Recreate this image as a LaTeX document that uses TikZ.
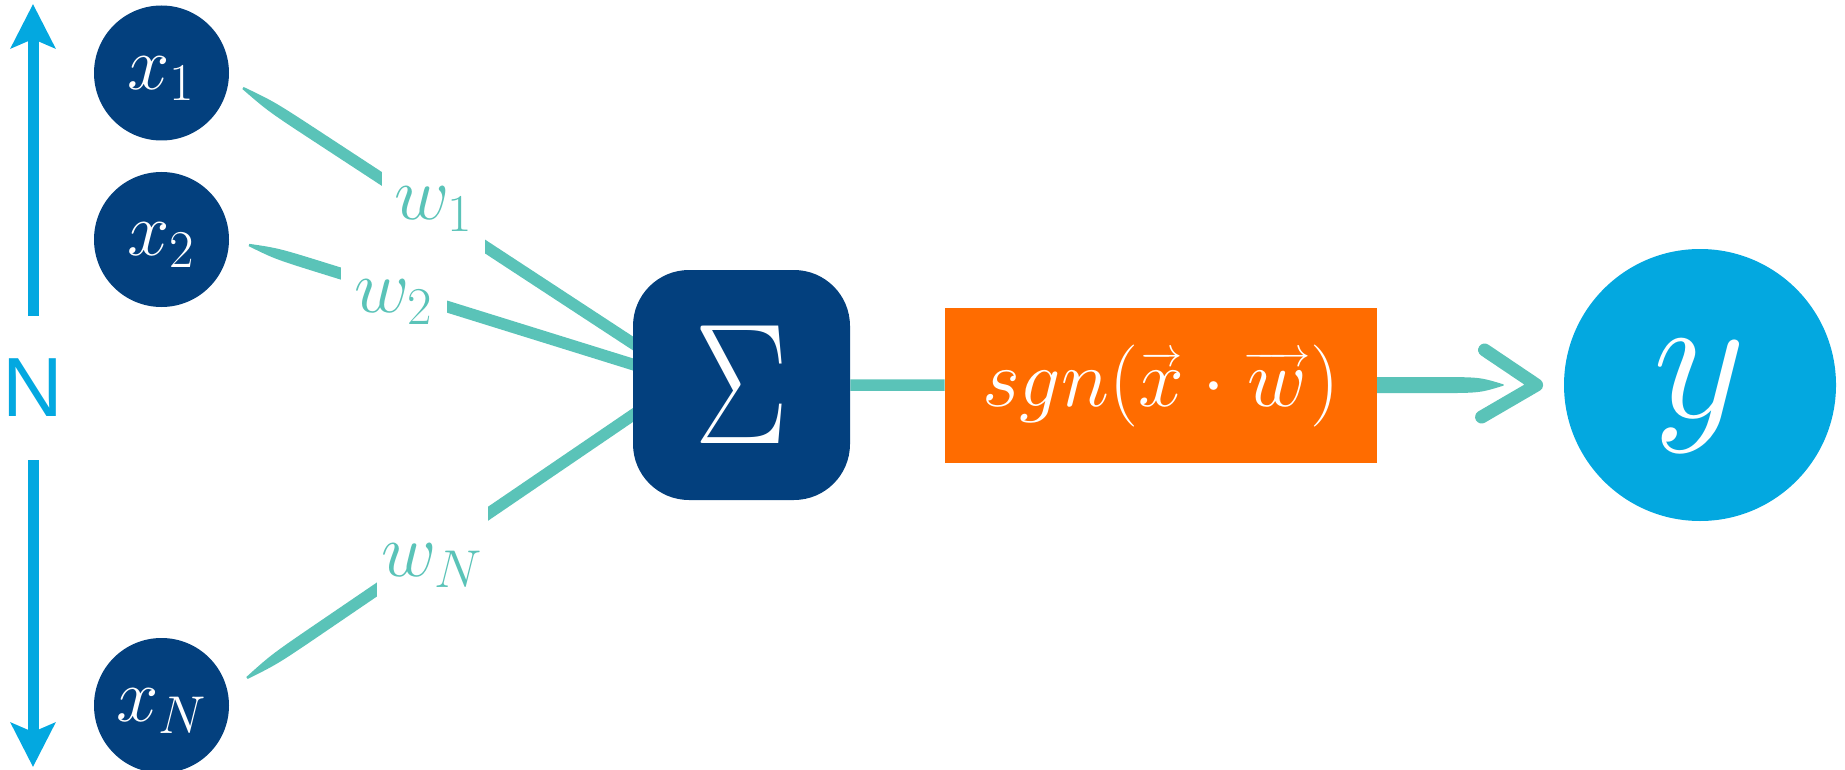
\RequirePackage{fix-cm}
\documentclass[tikz,border=0pt]{standalone}
\usepackage{fontspec}
\newfontfamily\sansN{Liberation Sans}
\usetikzlibrary{arrows.meta,calc,backgrounds}

\definecolor{navy}{HTML}{03407E}
\definecolor{sea}{HTML}{5AC3B8}
\definecolor{sky}{HTML}{03A8E0}
\definecolor{flame}{HTML}{FF6C00}

% vector arrow of a given (unscaled) length over a symbol
\newcommand\arrowover[2]{\mathord{\mathop{\hbox{$#2$}}\limits^{\scalebox{0.5}{\hbox to #1{\rightarrowfill}}}}}

% a brush-like stroke from #1 to #2: half-width #3 at the start, swelling to #4
\newcommand\brushstroke[4]{%
  \fill[sea] ($(#1)!#3!90:(#2)$)
    .. controls ($(#1)!0.07!(#2)!#4!90:(#2)$) .. ($(#1)!0.2!(#2)!#4!90:(#2)$)
    -- ($(#2)!#4!-90:(#1)$)
    -- ($(#2)!#4!90:(#1)$)
    -- ($(#1)!0.2!(#2)!#4!-90:(#2)$)
    .. controls ($(#1)!0.07!(#2)!#4!-90:(#2)$) .. ($(#1)!#3!-90:(#2)$)
    -- cycle;}

\tikzset{
  input/.style={circle, fill=navy, text=white, minimum size=67.5pt, inner sep=0pt, outer sep=0pt,
    font=\fontsize{38}{40}\selectfont, text depth=0pt},
  weight/.style={rectangle, fill=white, text=sea, inner sep=0pt, outer sep=0pt, minimum height=65pt,
    font=\fontsize{38}{40}\selectfont, text depth=0pt},
  sumbox/.style={rectangle, fill=navy, text=white, minimum width=108.5pt, minimum height=115pt,
    rounded corners=28pt, inner sep=0pt, font=\fontsize{86}{90}\selectfont},
  actbox/.style={rectangle, fill=flame, text=white, minimum width=216pt, minimum height=77.5pt,
    inner sep=0pt, font=\fontsize{41}{44}\selectfont},
  output/.style={circle, fill=sky, text=white, minimum size=136pt, inner sep=0pt,
    font=\fontsize{90}{92}\selectfont, text depth=5.8pt},
  countlabel/.style={rectangle, text=sky, inner sep=0pt, outer sep=0pt, minimum height=72pt,
    font=\sansN\fontsize{42}{44}\selectfont},
  countarrow/.style={draw=sky, line width=5.5pt, -{Stealth[length=22pt, width=22pt, inset=4.5pt]}},
  joinline/.style={draw=sea, line width=5.75pt},
  chevron/.style={draw=sea, line width=6.5pt, line cap=round, line join=round},
}

\begin{document}
\begin{tikzpicture}[x=0.5pt, y=-0.5pt]
  \useasboundingbox (0,0) rectangle (1845,770);

  % inputs
  \node[input] (x1) at (161.5,73)    {$x_1$};
  \node[input] (x2) at (161.5,239.5) {$x_2$};
  \node[input] (xN) at (161.5,705.5) {$x_N$};

  % weights (their white boxes break the connectors)
  \node[weight, minimum width=53pt]   (w2) at (394,296.5)   {$w_2$};
  \node[weight, minimum width=51.5pt] (w1) at (433.5,203.5) {$w_1$};
  \node[weight, minimum width=55.5pt] (wN) at (432.5,560)   {$w_N$};

  % sum, activation and output
  \node[sumbox] (sum) at (741.5,385) {\scalebox{0.82}[1]{$\Sigma$}\hspace{7pt}};
  \node[actbox] (act) at (1161,385.5)
    {$sgn(\arrowover{0.9em}{x}\cdot\arrowover{1.65em}{w})$};
  \node[output] (y) at (1700,385) {$y$};

  % number of inputs
  \node[countlabel] (N) at (33,388) {N};
  \coordinate (ntop) at (33,4);
  \coordinate (nbot) at (33,767);
  \draw[countarrow] (N) -- (ntop);
  \draw[countarrow] (N) -- (nbot);

  \begin{scope}[on background layer]
    \coordinate (a1) at ($(x1.east)+(14,15)$);
    \coordinate (a2) at ($(x2.east)+(20,5.5)$);
    \coordinate (a3) at ($(xN.east)+(18,-27.5)$);
    \coordinate (b1) at ($(sum.west)+(15,-32)$);
    \coordinate (b2) at ($(sum.west)+(15,-16)$);
    \coordinate (b3) at ($(sum.west)+(15,20)$);
    \brushstroke{a1}{b1}{0.6pt}{2.9pt}
    \brushstroke{a2}{b2}{0.6pt}{2.9pt}
    \brushstroke{a3}{b3}{0.6pt}{2.9pt}
    \draw[joinline] (sum) -- (act);
    \coordinate (tail) at ($(y.west)+(-60,0)$);
    \brushstroke{tail}{act.center}{0.3pt}{4pt}
  \end{scope}

  % arrowhead in front of the output
  \coordinate (tip)   at ($(y.west)+(-27,0)$);
  \coordinate (barbA) at ($(tip)+(-52,-35)$);
  \coordinate (barbB) at ($(tip)+(-55,32)$);
  \draw[chevron] (barbA) -- (tip) -- (barbB);
\end{tikzpicture}
\end{document}
